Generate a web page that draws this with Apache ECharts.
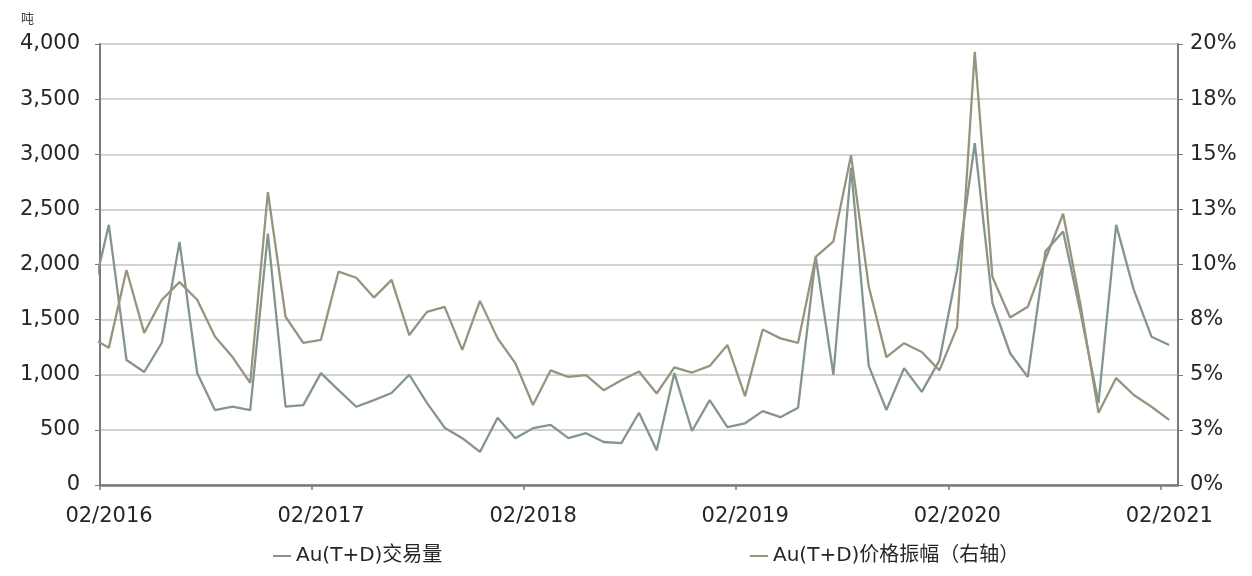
<!DOCTYPE html>
<html><head><meta charset="utf-8">
<script src="https://cdn.jsdelivr.net/npm/echarts@6/dist/echarts.min.js"></script>
<style>html,body{margin:0;padding:0;background:#fff}#c{width:1252px;height:576px}</style>
</head><body><div id="c"></div>
<script>
// Monthly observations, Jan 2016 .. Feb 2021 (plotted mid-month)
const months = [
 '2016-01','2016-02','2016-03','2016-04','2016-05','2016-06','2016-07','2016-08','2016-09','2016-10','2016-11','2016-12',
 '2017-01','2017-02','2017-03','2017-04','2017-05','2017-06','2017-07','2017-08','2017-09','2017-10','2017-11','2017-12',
 '2018-01','2018-02','2018-03','2018-04','2018-05','2018-06','2018-07','2018-08','2018-09','2018-10','2018-11','2018-12',
 '2019-01','2019-02','2019-03','2019-04','2019-05','2019-06','2019-07','2019-08','2019-09','2019-10','2019-11','2019-12',
 '2020-01','2020-02','2020-03','2020-04','2020-05','2020-06','2020-07','2020-08','2020-09','2020-10','2020-11','2020-12',
 '2021-01','2021-02'
];
// Au(T+D) trading volume (tonnes, left axis)
const volume = [
 1670,2360,1134,1025,1290,2205,1016,680,710,680,2280,710,
 725,1015,860,710,770,835,1000,745,520,425,300,610,
 425,515,545,425,470,390,380,655,315,1015,490,770,
 525,560,670,615,700,2070,1000,2880,1080,680,1060,845,
 1130,1950,3100,1650,1195,980,2120,2300,1550,745,2360,1770,
 1345,1270
];
// Au(T+D) price amplitude (%, right axis)
const amplitude = [
 6.68,6.23,9.75,6.90,8.40,9.20,8.40,6.73,5.80,4.63,13.28,7.63,
 6.45,6.58,9.68,9.40,8.50,9.30,6.80,7.85,8.08,6.13,8.35,6.65,
 5.53,3.63,5.20,4.90,4.98,4.30,4.75,5.15,4.15,5.33,5.10,5.40,
 6.35,4.03,7.05,6.65,6.45,10.35,11.05,14.95,9.00,5.80,6.43,6.03,
 5.20,7.15,19.65,9.43,7.60,8.08,10.25,12.30,8.10,3.28,4.85,4.08,
 3.55,2.95
];
const yearLabels = ['02/2016','02/2017','02/2018','02/2019','02/2020','02/2021'];
const rightLabels = ['0%','3%','5%','8%','10%','13%','15%','18%','20%'];
const seriesNames = ['Au(T+D)交易量','Au(T+D)价格振幅（右轴）'];

// month position: months since Feb 2016, centred in the month
function monthPos(m){
  const [y, mo] = m.split('-').map(Number);
  return (y - 2016) * 12 + (mo - 2) + 0.5;
}

const FONT = 'DejaVu Sans, "Noto Sans CJK SC", sans-serif';
const TXT = '#262626';
const chart = echarts.init(document.getElementById('c'), null, {renderer:'canvas'});
chart.setOption({
  animation: false,
  backgroundColor: '#fff',
  grid: {left: 100, right: 74, top: 44, bottom: 91, containLabel: false},
  xAxis: {
    type: 'value', min: 0, max: 61, interval: 12,
    axisLine: {show: true, lineStyle: {color: '#7a7a7a', width: 2.5}},
    axisTick: {show: true, length: 5, lineStyle: {color: '#7a7a7a', width: 1.5}},
    splitLine: {show: false},
    axisLabel: {
      color: TXT, fontSize: 21, fontFamily: FONT, margin: 21,
      padding: [0, 0, 0, 18],
      showMaxLabel: false,
      formatter: v => (v % 12 === 0 ? (yearLabels[v / 12] || '') : '')
    }
  },
  yAxis: [
    {
      type: 'value', min: 0, max: 4000, interval: 500, position: 'left',
      axisLine: {show: true, lineStyle: {color: '#7a7a7a', width: 2}},
      axisTick: {show: true, length: 5, lineStyle: {color: '#7a7a7a'}},
      splitLine: {show: true, lineStyle: {color: '#c4c4c4', width: 1.6}},
      axisLabel: {color: TXT, fontSize: 21, fontFamily: FONT, margin: 20,
        formatter: v => v.toLocaleString('en-US')}
    },
    {
      type: 'value', min: 0, max: 20, interval: 2.5, position: 'right',
      axisLine: {show: true, lineStyle: {color: '#7a7a7a', width: 2}},
      axisTick: {show: true, length: 5, lineStyle: {color: '#7a7a7a'}},
      splitLine: {show: false},
      axisLabel: {color: TXT, fontSize: 21, fontFamily: FONT, margin: 12,
        formatter: v => rightLabels[Math.round(v / 2.5)]}
    }
  ],
  legend: [
    {data: [seriesNames[0]], left: 268, top: 541, icon: 'rect', itemWidth: 18, itemHeight: 2,
     textStyle: {color: TXT, fontSize: 20, fontFamily: FONT}},
    {data: [seriesNames[1]], left: 745, top: 541, icon: 'rect', itemWidth: 18, itemHeight: 2,
     textStyle: {color: TXT, fontSize: 20, fontFamily: FONT}}
  ],
  graphic: [
    {type: 'text', left: 21, top: 12, style: {text: '吨', fill: '#444', font: '13px "Noto Sans CJK SC"'}}
  ],
  series: [
    {
      name: seriesNames[0], type: 'line', yAxisIndex: 0, symbol: 'none', clip: true,
      data: months.map((m, i) => [monthPos(m), volume[i]]),
      itemStyle: {color: '#84958e'},
      lineStyle: {color: '#84958e', width: 2.3}
    },
    {
      name: seriesNames[1], type: 'line', yAxisIndex: 1, symbol: 'none', clip: true,
      data: months.map((m, i) => [monthPos(m), amplitude[i]]),
      itemStyle: {color: '#95957f'},
      lineStyle: {color: '#95957f', width: 2.3}
    }
  ]
});
</script>
</body></html>
